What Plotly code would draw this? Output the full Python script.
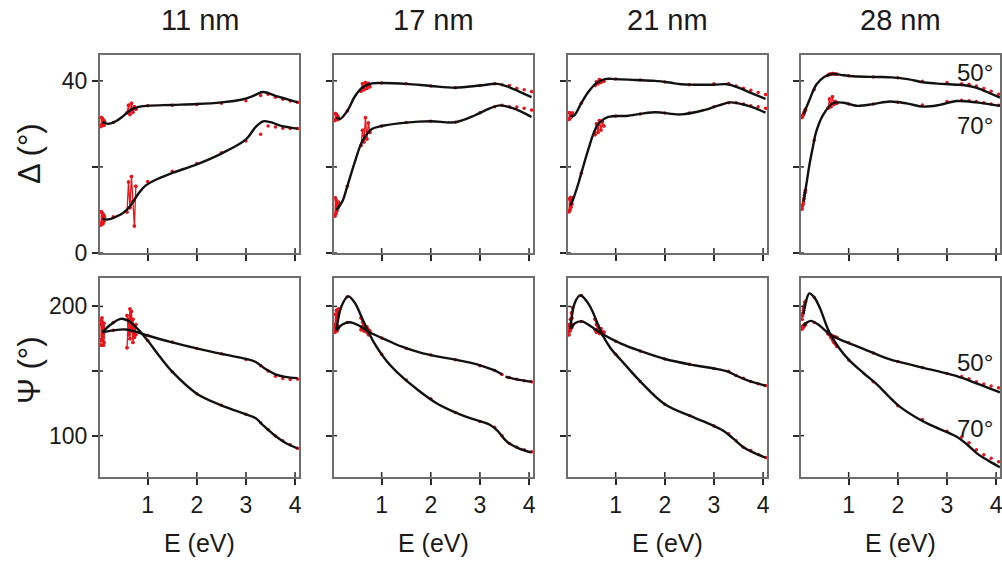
import plotly.graph_objects as go
from plotly.subplots import make_subplots

# ---------------------------------------------------------------------------
# Ellipsometry of films of four thicknesses: Delta (top) and Psi (bottom)
# at 50° and 70° incidence. Red = measured, black = model fit.
# ---------------------------------------------------------------------------
THICKNESS = ["11 nm", "17 nm", "21 nm", "28 nm"]
ANGLES = ["50°", "70°"]

# photon energies of the measured points (eV)
E_MEAS = [0.05, 0.06, 0.07, 0.08, 0.09, 0.10, 0.11, 0.12, 0.30,
          0.58, 0.61, 0.64, 0.67, 0.70, 0.73, 0.76,
          1.0, 1.5, 2.0, 2.5, 3.0, 3.3, 3.45, 3.6, 3.75, 3.9, 4.05]
# index ranges of the two noisy bands (detector changeover regions)
NOISY_BANDS = [(0, 8), (9, 16)]

# ---- 11 nm ----------------------------------------------------------------
D50_MEAS_11 = [29.4, 31.5, 29.8, 31.2, 30.0, 30.9, 29.6, 30.6, 30.3,
               32.6, 34.3, 32.2, 34.8, 32.7, 34.0, 33.4,
               34.2, 34.3, 34.5, 34.8, 35.4, 36.6, 36.9, 36.2, 35.7, 35.3, 35.0]
D70_MEAS_11 = [6.5, 9.6, 7.0, 9.2, 6.8, 8.9, 7.4, 8.5, 8.4,
               9.5, 16.5, 10.5, 17.8, 12.0, 6.3, 15.5,
               16.6, 19.0, 20.8, 23.3, 26.0, 27.6, 29.5, 29.3, 29.0, 28.9, 28.9]
P50_MEAS_11 = [170, 186, 174, 188, 176, 183, 172, 181, 181.5,
               168, 190, 175, 196, 172, 185, 178,
               177.5, 172.5, 167.5, 163.3, 159.0, 154.0, 150.0, 146.0, 144.2, 143.5, 143.8]
P70_MEAS_11 = [189, 174, 191, 178, 185, 170, 187, 182, 187.5,
               193, 178, 198, 181, 190, 176, 186,
               173.6, 149.5, 132.5, 123.5, 116.5, 110.0, 104.8, 99.8, 96.0, 93.0, 90.2]

E_D50_FIT_11 = [0.08, 0.2, 0.35, 0.5, 0.65, 0.8, 1.0, 1.5, 2.0, 2.5, 2.9, 3.15, 3.35, 3.6, 3.85, 4.05]
D50_FIT_11 = [30.4, 30.0, 30.6, 31.8, 33.2, 33.9, 34.2, 34.4, 34.6, 35.0, 35.6, 36.5, 37.4, 36.5, 35.7, 35.0]
E_D70_FIT_11 = [0.08, 0.2, 0.35, 0.5, 0.65, 0.8, 0.95, 1.2, 1.5, 2.0, 2.5, 3.0, 3.2, 3.35, 3.5, 3.7, 4.05]
D70_FIT_11 = [8.0, 7.8, 8.4, 9.3, 11.0, 13.6, 15.6, 17.2, 18.6, 20.6, 23.1, 26.4, 29.3, 30.6, 30.4, 29.6, 28.9]
E_P50_FIT_11 = [0.08, 0.3, 0.55, 0.8, 1.0, 1.5, 2.0, 2.5, 3.0, 3.2, 3.4, 3.6, 3.8, 4.05]
P50_FIT_11 = [180, 181.5, 182.2, 180, 177.5, 172.2, 167.5, 163.3, 159.4, 157, 151.5, 147.5, 145.5, 144.5]
E_P70_FIT_11 = [0.08, 0.25, 0.45, 0.6, 0.8, 1.0, 1.25, 1.5, 2.0, 2.5, 3.0, 3.2, 3.35, 3.55, 3.8, 4.05]
P70_FIT_11 = [180, 186, 190.4, 189, 182.5, 173.6, 161, 149.5, 132.5, 123.5, 116.5, 113.5, 108, 101.3, 94.5, 90.2]

# ---- 17 nm ----------------------------------------------------------------
D50_MEAS_17 = [30.8, 32.4, 31.0, 32.2, 31.2, 31.8, 31.0, 31.5, 33.0,
               37.6, 39.3, 37.9, 39.6, 38.2, 39.4, 38.6,
               39.5, 39.3, 38.8, 38.4, 38.9, 39.3, 39.1, 38.9, 38.3, 37.9, 37.5]
D70_MEAS_17 = [8.6, 12.8, 9.2, 12.2, 9.8, 11.5, 10.5, 11.8, 15.5,
               25.0, 28.5, 25.8, 31.4, 26.5, 30.2, 28.0,
               29.5, 30.3, 30.6, 30.4, 32.6, 34.0, 34.3, 34.0, 33.9, 33.6, 33.2]
P50_MEAS_17 = [180, 186, 182, 184, 181, 185, 183, 184, 187.5,
               182, 184, 181, 183, 180, 182, 179,
               175.5, 167.5, 162.5, 158.8, 154.0, 150.5, 147.4, 145.0, 143.6, 142.5, 141.7]
P70_MEAS_17 = [184, 194, 186, 197, 190, 196, 193, 198, 207.5,
               191, 188, 186, 183, 184, 178, 181,
               163, 143, 128.5, 118, 111, 106.5, 100, 94, 91, 89, 87.5]

E_D50_FIT_17 = [0.08, 0.15, 0.3, 0.45, 0.6, 0.8, 1.0, 1.5, 2.0, 2.5, 3.0, 3.35, 3.6, 3.8, 4.05]
D50_FIT_17 = [31.5, 31.1, 33.0, 36.3, 38.4, 39.4, 39.5, 39.3, 38.8, 38.4, 38.9, 39.3, 38.5, 37.5, 36.2]
E_D70_FIT_17 = [0.08, 0.2, 0.3, 0.45, 0.6, 0.8, 1.0, 1.5, 2.0, 2.5, 2.9, 3.2, 3.4, 3.65, 3.85, 4.05]
D70_FIT_17 = [10.0, 12.0, 15.5, 21.0, 25.8, 28.8, 29.5, 30.3, 30.6, 30.4, 32.0, 33.6, 34.3, 33.7, 32.8, 31.6]
E_P50_FIT_17 = [0.08, 0.2, 0.35, 0.55, 0.75, 1.1, 1.4, 1.77, 2.1, 2.45, 2.8, 3.1, 3.3, 3.45, None, 3.52, 3.75, 4.05]
P50_FIT_17 = [181.3, 186, 187.8, 185, 180, 174, 169, 164.4, 161.5, 159.2, 156.5, 153.2, 150.5, 147.4, None, 145.6, 143.5, 141.7]
E_P70_FIT_17 = [0.08, 0.18, 0.32, 0.45, 0.6, 0.75, 0.9, 1.1, 1.4, 1.77, 2.1, 2.45, 2.8, 3.2, 3.35, 3.55, 3.8, 4.05]
P70_FIT_17 = [181.3, 200, 207.8, 203, 191, 178.7, 168.5, 157.8, 146, 134.4, 125.5, 118.8, 113.5, 108.4, 104, 95.3, 90, 87]

# ---- 21 nm ----------------------------------------------------------------
D50_MEAS_21 = [31.0, 32.6, 31.3, 32.4, 31.6, 32.2, 31.8, 32.5, 34.8,
               38.9, 39.8, 39.3, 40.3, 39.6, 40.1, 39.9,
               40.4, 40.2, 39.7, 39.1, 39.3, 39.4, 38.8, 38.3, 37.8, 37.3, 36.8]
D70_MEAS_21 = [9.6, 12.6, 10.0, 12.9, 10.6, 12.0, 11.4, 12.8, 18.5,
               27.5, 30.0, 28.0, 30.8, 28.6, 30.5, 29.5,
               31.8, 32.3, 32.5, 32.5, 34.0, 34.9, 34.9, 34.6, 34.2, 34.0, 33.6]
P50_MEAS_21 = [181, 185, 182, 184, 183, 185, 184, 186, 188.3,
               182, 180, 183, 179, 181, 178, 180,
               173, 165.5, 159.3, 155.2, 152, 149.8, 146.5, 144.5, 142, 140.2, 138.8]
P70_MEAS_21 = [178, 186, 181, 190, 185, 195, 191, 199, 208.5,
               190, 186, 185, 182, 183, 179, 180,
               163, 142, 124.3, 115.5, 107.5, 101.5, 96, 91, 88.5, 85.5, 83]

E_D50_FIT_21 = [0.08, 0.15, 0.3, 0.45, 0.6, 0.78, 1.0, 1.4, 1.8, 2.1, 2.33, 2.6, 3.0, 3.27, 3.5, 3.75, 4.05]
D50_FIT_21 = [31.9, 31.9, 34.8, 37.5, 39.4, 40.4, 40.4, 40.2, 40.0, 39.6, 39.2, 39.1, 39.1, 39.2, 38.4, 37.2, 35.8]
E_D70_FIT_21 = [0.08, 0.15, 0.25, 0.35, 0.45, 0.55, 0.65, 0.85, 1.26, 1.79, 2.33, 2.8, 3.1, 3.34, 3.6, 3.85, 4.05]
D70_FIT_21 = [11.0, 13.0, 16.5, 20.5, 24.3, 27.8, 30.1, 31.6, 31.9, 32.7, 32.2, 33.2, 34.3, 35.0, 34.5, 33.6, 32.6]
E_P50_FIT_21 = [0.08, 0.18, 0.31, 0.5, 0.72, 1.12, 1.5, 2.0, 2.6, 3.0, 3.27, 3.45, 3.7, 4.05]
P50_FIT_21 = [182.7, 187.2, 188.4, 184.5, 178.8, 171, 165.5, 159.3, 154.5, 152.0, 149.8, 146.5, 142.5, 138.6]
E_P70_FIT_21 = [0.08, 0.17, 0.28, 0.4, 0.52, 0.72, 0.9, 1.12, 1.5, 2.0, 2.6, 3.0, 3.2, 3.4, 3.6, 3.8, 4.05]
P70_FIT_21 = [182.7, 203, 208.6, 204.5, 196.9, 178.8, 167.5, 158, 142, 124.3, 114, 107.5, 103.6, 97.5, 91, 87, 82.9]

# ---- 28 nm ----------------------------------------------------------------
D50_MEAS_28 = [31.5, 31.8, 32.0, 32.2, 32.5, 32.8, 33.0, 33.4, 38.0,
               41.3, 41.5, 41.6, 41.7, 41.6, 41.6, 41.5,
               41.2, 40.9, 40.7, 39.9, 39.6, 39.3, 39.2, 38.8, 38.2, 37.6, 36.9]
D70_MEAS_28 = [10.2, 10.9, 11.3, 11.9, 12.6, 13.3, 14.0, 14.6, 26.2,
               33.6, 35.8, 34.0, 36.3, 34.5, 35.2, 34.8,
               34.6, 34.6, 35.0, 34.4, 35.2, 35.5, 35.4, 35.2, 34.9, 34.6, 34.3]
P50_MEAS_28 = [182.5, 184.5, 183.5, 185.0, 184.5, 186.0, 185.5, 186.5, 187.5,
               178.9, 178.0, 177.8, 177.2, 176.8, 176.3, 176.0,
               171.8, 164, 157.3, 152.7, 148, 145.8, 144, 141.8, 140, 138.5, 137]
P70_MEAS_28 = [190, 193, 195, 197, 199, 201, 203, 204, 207,
               181, 178, 176, 174, 172, 171, 169,
               158.5, 141.8, 123.2, 112.5, 103.5, 99, 94.5, 89, 85.3, 82.5, 79.8]

E_D50_FIT_28 = [0.08, 0.2, 0.34, 0.5, 0.67, 0.9, 1.2, 1.6, 1.87, 2.2, 2.55, 2.9, 3.24, 3.45, 3.65, 3.9, 4.08]
D50_FIT_28 = [32.2, 35.5, 39.1, 40.9, 41.6, 41.3, 41.0, 40.9, 40.8, 40.4, 39.6, 39.3, 39.1, 38.8, 38.2, 37.0, 36.1]
E_D70_FIT_28 = [0.08, 0.14, 0.2, 0.27, 0.34, 0.48, 0.68, 0.9, 1.16, 1.5, 1.84, 2.2, 2.52, 2.85, 3.2, 3.6, 3.85, 4.08]
D70_FIT_28 = [11.9, 16.0, 20.4, 24.5, 28.2, 32.1, 34.8, 34.9, 34.2, 34.6, 35.2, 34.7, 34.0, 34.4, 35.3, 35.0, 34.6, 34.2]
E_P50_FIT_28 = [0.08, 0.15, 0.23, 0.4, 0.61, 0.85, 1.16, 1.5, 1.84, 2.2, 2.52, 2.85, 3.2, 3.6, 4.08]
P50_FIT_28 = [184.9, 187.5, 188.8, 185.5, 178.4, 174, 169.3, 164, 159, 155.5, 152.5, 149.5, 146, 140.5, 133.5]
E_P70_FIT_28 = [0.08, 0.14, 0.2, 0.3, 0.41, 0.61, 0.8, 1.02, 1.3, 1.57, 1.8, 2.04, 2.4, 2.66, 3.2, 3.4, 3.61, 3.85, 4.08]
P70_FIT_28 = [194, 205, 210.1, 207, 199.2, 179.7, 168, 158, 148.5, 139.8, 131, 122.5, 113.5, 108.3, 99.2, 93.5, 86.3, 80.5, 75.5]

# axis ticks
X_TICKS = [1, 2, 3, 4]
DELTA_TICKS = [0, 20, 40]
DELTA_TICKTEXT = ["0", "", "40"]
PSI_TICKS = [100, 150, 200]
PSI_TICKTEXT = ["100", "", "200"]

# (measured Δ50, Δ70, Ψ50, Ψ70), then fits as (E, value) pairs, per column
COLUMNS = [
    dict(meas=[D50_MEAS_11, D70_MEAS_11, P50_MEAS_11, P70_MEAS_11],
         fit=[(E_D50_FIT_11, D50_FIT_11), (E_D70_FIT_11, D70_FIT_11),
              (E_P50_FIT_11, P50_FIT_11), (E_P70_FIT_11, P70_FIT_11)]),
    dict(meas=[D50_MEAS_17, D70_MEAS_17, P50_MEAS_17, P70_MEAS_17],
         fit=[(E_D50_FIT_17, D50_FIT_17), (E_D70_FIT_17, D70_FIT_17),
              (E_P50_FIT_17, P50_FIT_17), (E_P70_FIT_17, P70_FIT_17)]),
    dict(meas=[D50_MEAS_21, D70_MEAS_21, P50_MEAS_21, P70_MEAS_21],
         fit=[(E_D50_FIT_21, D50_FIT_21), (E_D70_FIT_21, D70_FIT_21),
              (E_P50_FIT_21, P50_FIT_21), (E_P70_FIT_21, P70_FIT_21)]),
    dict(meas=[D50_MEAS_28, D70_MEAS_28, P50_MEAS_28, P70_MEAS_28],
         fit=[(E_D50_FIT_28, D50_FIT_28), (E_D70_FIT_28, D70_FIT_28),
              (E_P50_FIT_28, P50_FIT_28), (E_P70_FIT_28, P70_FIT_28)]),
]

# ---------------------------------------------------------------------------
W, H = 1002, 565
FONT = "Arial, Liberation Sans, sans-serif"
TXT = "#1a1a1a"
FRAME = "#6e6e6e"
TICK = "#2a2a2a"
RED = "#e8161b"
FIT = "#111111"


def px_x(x):
    return x / W


def px_y(y):
    return 1 - y / H


COL_LEFT = [100, 334, 568, 801]
COL_W = 199
ROW_TOP = [(55, 253), (278, 477)]

fig = make_subplots(rows=2, cols=4)

red_marker = dict(color=RED, size=3.5, line=dict(width=0))
for c, col in enumerate(COLUMNS):
    for k in range(4):
        row = 1 if k < 2 else 2
        vals = col["meas"][k]
        # noisy bands: connected so the scatter reads as a dense smear
        for a, b in NOISY_BANDS:
            fig.add_trace(go.Scatter(
                x=E_MEAS[a:b], y=vals[a:b], mode="lines+markers",
                line=dict(color=RED, width=1.3), marker=red_marker,
                showlegend=False, hoverinfo="skip"), row=row, col=c + 1)
        fig.add_trace(go.Scatter(
            x=E_MEAS, y=vals, mode="markers", marker=red_marker,
            showlegend=False, hoverinfo="skip"), row=row, col=c + 1)
    for k in range(4):
        row = 1 if k < 2 else 2
        ex, vy = col["fit"][k]
        fig.add_trace(go.Scatter(
            x=ex, y=vy, mode="lines",
            line=dict(color=FIT, width=2.4, shape="spline", smoothing=1.0),
            connectgaps=False, showlegend=False, hoverinfo="skip"),
            row=row, col=c + 1)

axis_common = dict(showline=True, mirror=True, linecolor=FRAME, linewidth=2,
                   ticks="outside", ticklen=6, tickwidth=1.5, tickcolor=TICK,
                   showgrid=False, zeroline=False, automargin=False,
                   tickfont=dict(family=FONT, size=23, color=TXT))

shapes = []
for r in range(2):
    for c in range(4):
        idx = r * 4 + c + 1
        xa = "xaxis" if idx == 1 else f"xaxis{idx}"
        ya = "yaxis" if idx == 1 else f"yaxis{idx}"
        xr = "x" if idx == 1 else f"x{idx}"
        yr = "y" if idx == 1 else f"y{idx}"
        top, bot = ROW_TOP[r]
        fig.layout[xa].update(
            domain=[px_x(COL_LEFT[c]), px_x(COL_LEFT[c] + COL_W)],
            range=[0.03, 4.08], tickvals=X_TICKS, ticklabeloverflow="allow",
            showticklabels=(r == 1), **axis_common)
        yt = DELTA_TICKS if r == 0 else PSI_TICKS
        if r == 0:
            fig.layout[ya].update(range=[0, 46], tickvals=DELTA_TICKS,
                                  ticktext=DELTA_TICKTEXT)
        else:
            fig.layout[ya].update(range=[68, 222], tickvals=PSI_TICKS,
                                  ticktext=PSI_TICKTEXT)
        fig.layout[ya].update(domain=[px_y(bot), px_y(top)],
                              showticklabels=(c == 0), **axis_common)
        # inner half of the tick marks, so the ticks cross the frame
        for t in X_TICKS:
            shapes.append(dict(type="line", xref=xr, yref=f"{yr} domain",
                               x0=t, x1=t, ysizemode="pixel", yanchor=0, y0=0, y1=5,
                               line=dict(color=TICK, width=1.5)))
        for t in yt:
            shapes.append(dict(type="line", xref=f"{xr} domain", yref=yr,
                               y0=t, y1=t, xsizemode="pixel", xanchor=0, x0=0, x1=3,
                               line=dict(color=TICK, width=1.5)))


def label(text, x, y, size, angle=0):
    return dict(text=text, x=px_x(x), y=px_y(y), xref="paper", yref="paper",
                xanchor="center", yanchor="middle", textangle=angle,
                showarrow=False, font=dict(family=FONT, size=size, color=TXT))


ann = []
for c, name in enumerate(THICKNESS):
    cx = COL_LEFT[c] + COL_W / 2
    ann.append(label(name, cx, 20, 29))
    ann.append(label("E (eV)", cx, 543, 25))

ann.append(label("Δ (°)", 29, 154, 31, -90))
ann.append(label("Ψ (°)", 29, 370, 31, -90))

# angle labels in the last column
for txt, y in [(ANGLES[0], 72), (ANGLES[1], 125), (ANGLES[0], 362), (ANGLES[1], 428)]:
    ann.append(label(txt, 975, y, 24))

fig.update_layout(width=W, height=H, margin=dict(l=0, r=0, t=0, b=0, pad=0),
                  paper_bgcolor="white", plot_bgcolor="white",
                  annotations=ann, shapes=shapes, showlegend=False)

fig.write_html("out.html")
